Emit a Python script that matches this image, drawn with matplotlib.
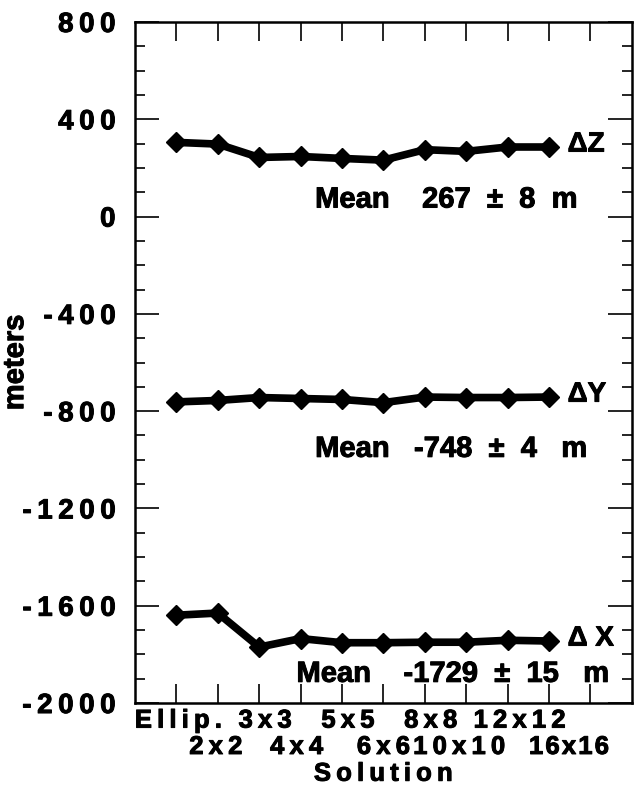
import numpy as np
import matplotlib
matplotlib.use("Agg")
import matplotlib.pyplot as plt
import matplotlib.patheffects as pe
from matplotlib.transforms import ScaledTranslation
from matplotlib.ticker import MultipleLocator, FuncFormatter

plt.rcParams['font.family'] = ['Liberation Sans', 'DejaVu Sans']
plt.rcParams['font.weight'] = 'bold'
plt.rcParams['axes.unicode_minus'] = False

solutions = ["Ellip.", "2x2", "3x3", "4x4", "5x5", "6x6", "8x8", "10x10", "12x12", "16x16"]
dz = [305, 298, 243, 247, 239, 232, 275, 268, 286, 286]
dy = [-762, -756, -744, -748, -752, -765, -742, -744, -744, -742]
dx = [-1639, -1630, -1770, -1735, -1752, -1752, -1750, -1750, -1742, -1745]

series_names = ["\u0394Z", "\u0394Y", "\u0394 X"]
mean_texts = ["Mean    267  \u00b1  8  m", "Mean   -748  \u00b1  4   m", "Mean    -1729  \u00b1  15   m"]

heavy = [pe.withStroke(linewidth=0.7, foreground='black')]


def spaced(s, sep="\u2009"):
    # the original lettering is loosely tracked
    return sep.join(s)


fig = plt.figure(figsize=(6.35, 8.02), dpi=100)
ax = fig.add_axes([0.2126, 0.1234, 0.7824, 0.8492])

pos = np.arange(1, len(solutions) + 1)
for vals in (dz, dy, dx):
    ax.plot(pos, vals, color='black', lw=5.5, marker='D', markersize=10,
            solid_joinstyle='miter')

lab_y = [dz[-1], dy[-1], dx[-1]]
for name, yv in zip(series_names, lab_y):
    ax.text(10.45, yv + 10, name, fontsize=20, fontweight='bold', va='center', ha='left',
            path_effects=heavy)

ax.text(4.35, 70, mean_texts[0], fontsize=21, fontweight='bold', va='center', ha='left',
        path_effects=heavy)
ax.text(4.35, -955, mean_texts[1], fontsize=21, fontweight='bold', va='center', ha='left',
        path_effects=heavy)
ax.text(3.9, -1880, mean_texts[2], fontsize=21, fontweight='bold', va='center', ha='left',
        path_effects=heavy)

ax.set_xlim(0, 12)
ax.set_ylim(-2000, 800)
ax.yaxis.set_major_locator(MultipleLocator(400))
ax.yaxis.set_minor_locator(MultipleLocator(100))
ax.yaxis.set_major_formatter(FuncFormatter(lambda v, p: spaced("%d" % v)))

# first row of labels on major ticks, second row on minor ticks
ax.set_xticks(np.arange(1, 12, 2))
ax.set_xticklabels([spaced(s) for s in solutions[0::2]] + [""])
ax.set_xticks(np.arange(2, 11, 2), minor=True)
row2 = [spaced(s) for s in solutions[1::2]]
row2[-1] = spaced(solutions[-1], "\u200a")
ax.set_xticklabels(row2, minor=True)

ax.tick_params(axis='x', which='both', direction='in', top=True, bottom=True,
               length=14, width=1.2)
ax.tick_params(axis='x', which='major', pad=4)
ax.tick_params(axis='x', which='minor', pad=23)
ax.tick_params(axis='y', which='major', direction='in', left=True, right=True,
               length=17, width=1.2, pad=14)
ax.tick_params(axis='y', which='minor', direction='in', left=True, right=True,
               length=7, width=1.2)

# small horizontal nudges of the category labels, as set in the original
shift1 = [2, 6, 6, 6, 12, 0]
shift2 = [-2, -4, 0, -7, 20]
for lab, s in zip(ax.get_xticklabels(), shift1):
    lab.set_transform(lab.get_transform() + ScaledTranslation(s / 100, 0, fig.dpi_scale_trans))
for lab, s in zip(ax.get_xticklabels(minor=True), shift2):
    lab.set_transform(lab.get_transform() + ScaledTranslation(s / 100, 0, fig.dpi_scale_trans))

for lab in ax.get_xticklabels() + ax.get_xticklabels(minor=True):
    lab.set_fontsize(18.5)
    lab.set_fontweight('bold')
    lab.set_path_effects(heavy)
for lab in ax.get_yticklabels():
    lab.set_fontsize(20)
    lab.set_fontweight('bold')
    lab.set_path_effects(heavy)

for sp in ax.spines.values():
    sp.set_linewidth(1.8)

ax.set_xlabel(spaced("Solution"), fontsize=18.5, fontweight='bold', labelpad=2,
              path_effects=heavy)
ax.set_ylabel("meters", fontsize=21, fontweight='bold', path_effects=heavy)
ax.yaxis.set_label_coords(-0.213, 0.5)

fig.savefig("out.png", dpi=100)
